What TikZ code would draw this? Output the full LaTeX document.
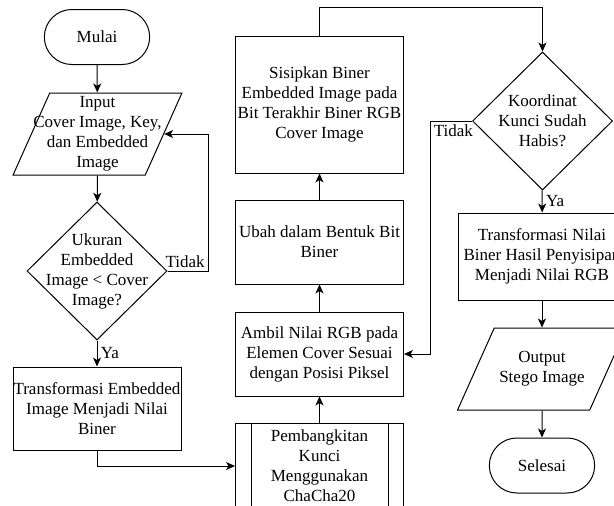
\documentclass[tikz,border=0pt]{standalone}
\usepackage{fontspec}
\setmainfont{Liberation Serif}
\usetikzlibrary{shapes.geometric,shapes.misc,calc,arrows.meta}

\begin{document}
\begin{tikzpicture}[x=1pt,y=-1pt,>={Stealth[length=9pt,width=8pt,inset=2.5pt]},line width=1pt,
  font=\fontsize{17}{20}\selectfont,
  every node/.style={align=center},
  terminal/.style={draw,rounded rectangle,minimum width=112pt,minimum height=55pt},
  io/.style={draw,trapezium,trapezium stretches=true,trapezium left angle=69,
    trapezium right angle=111,minimum width=169pt,minimum height=82pt},
  decision/.style={draw,diamond,minimum width=140pt,minimum height=138pt,inner sep=0pt},
  process/.style={draw,rectangle,minimum width=168pt,inner sep=0pt}]
  \useasboundingbox (0,0) rectangle (614,506);

  % kolom kiri
  \node[terminal] (mulai) at (97,37) {Mulai};
  \node[io,label={center:{Input\\Cover Image, Key,\\dan Embedded\\Image}}] (input) at (97.5,134) {};
  \node[decision,label={center:{Ukuran\\Embedded\\Image < Cover\\Image?}}] (ukuran) at (97,271) {};
  \node[process,minimum height=83pt] (trEmb) at (97,408.5) {Transformasi Embedded\\Image Menjadi Nilai\\Biner};

  % kolom tengah
  \node[process,minimum height=86pt] (kunci) at (319.5,466) {Pembangkitan\\Kunci\\Menggunakan\\ChaCha20};
  \draw ($(kunci.north west)+(16,0)$) -- ($(kunci.south west)+(16,0)$);
  \draw ($(kunci.north east)+(-16,0)$) -- ($(kunci.south east)+(-16,0)$);
  \node[process,minimum height=84pt] (ambil) at (319.5,354) {Ambil Nilai RGB pada\\Elemen Cover Sesuai\\dengan Posisi Piksel};
  \node[process,minimum height=84pt] (ubah) at (319.5,242) {Ubah dalam Bentuk Bit\\Biner};
  \node[process,minimum height=137pt] (sisip) at (319.5,104.5) {Sisipkan Biner\\Embedded Image pada\\Bit Terakhir Biner RGB\\Cover Image};

  % kolom kanan
  \node[decision,label={center:{Koordinat\\Kunci Sudah\\Habis?}}] (koord) at (542.5,121) {};
  \node[process,minimum height=87pt] (trNilai) at (542,256.5) {Transformasi Nilai\\Biner Hasil Penyisipan\\Menjadi Nilai RGB};
  \node[io,label={center:{Output\\Stego Image}}] (output) at (542,369) {};
  \node[terminal] (selesai) at (542,465.5) {Selesai};

  % alur
  \draw[->] (mulai) -- (input);
  \draw[->] (input) -- (ukuran);
  \draw[->] (ukuran.east) -- ++(41,0) node[above left] {Tidak} |- (input.east);
  \draw[->] (ukuran) -- node[right] {Ya} (trEmb);
  \draw[->] (trEmb.south) |- (kunci.west);
  \draw[->] (kunci) -- (ambil);
  \draw[->] (ambil) -- (ubah);
  \draw[->] (ubah) -- (sisip);
  \draw[->] (sisip.north) -- ++(0,-28) -| (koord.north);
  \draw[->] (koord.west) -- ++(-42,0) node[below right] {Tidak} |- (ambil.east);
  \draw[->] (koord) -- node[right] {Ya} (trNilai);
  \draw[->] (trNilai) -- (output);
  \draw[->] (output) -- (selesai);
\end{tikzpicture}
\end{document}
